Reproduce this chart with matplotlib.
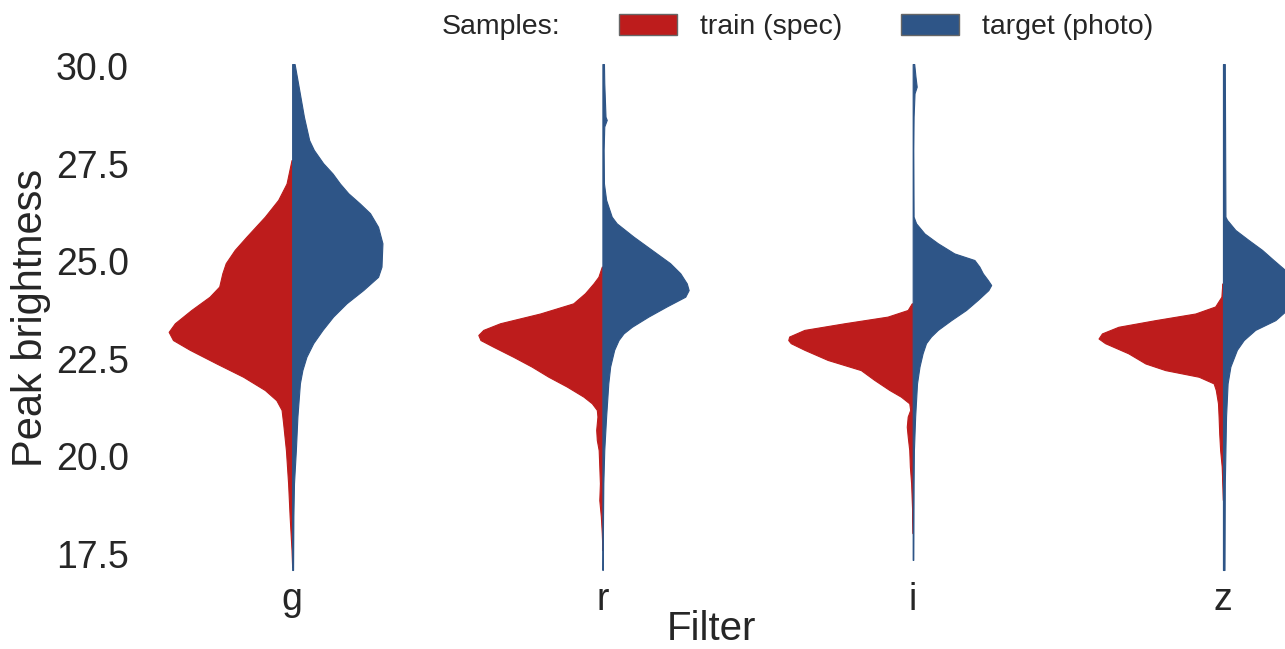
import matplotlib
matplotlib.use('Agg')
import matplotlib.pyplot as plt
from matplotlib.patches import Patch

plt.rcParams['font.family'] = ['Liberation Sans', 'DejaVu Sans']

filters = ['g', 'r', 'i', 'z']
sample_labels = ['train (spec)', 'target (photo)']
color_train = '#BD1C1C'
color_target = '#2E5587'

# violin outlines: magnitude and half-width (in category units)
g_train_mag = [27.59, 26.99, 26.57, 26.14, 25.63, 25.29, 24.95, 24.69, 24.35, 24.09, 23.75, 23.41,
               23.19, 22.98, 22.73, 22.38, 22.04, 21.70, 21.44, 21.19, 20.85, 20.16, 19.31, 18.46,
               17.60, 17.17]
g_train_w = [0.002, 0.018, 0.045, 0.088, 0.147, 0.185, 0.214, 0.225, 0.235, 0.266, 0.325, 0.378,
             0.398, 0.384, 0.330, 0.244, 0.158, 0.088, 0.051, 0.034, 0.029, 0.020, 0.013, 0.008,
             0.002, 0.0]
g_target_mag = [30.05, 29.56, 28.70, 28.10, 27.85, 27.51, 27.25, 26.99, 26.74, 26.48, 26.23, 25.88,
                25.46, 24.86, 24.60, 24.26, 23.92, 23.58, 23.24, 22.90, 22.55, 22.21, 21.87, 21.02,
                20.16, 19.31, 18.46, 17.09]
g_target_w = [0.008, 0.019, 0.038, 0.055, 0.070, 0.100, 0.130, 0.154, 0.181, 0.218, 0.251, 0.277,
              0.291, 0.288, 0.277, 0.229, 0.175, 0.132, 0.098, 0.068, 0.046, 0.033, 0.025, 0.017,
              0.012, 0.006, 0.004, 0.003]

r_train_mag = [24.86, 24.60, 24.43, 24.18, 23.92, 23.66, 23.41, 23.24, 23.11, 22.98, 22.81, 22.55,
               22.30, 22.04, 21.79, 21.53, 21.36, 21.19, 21.02, 20.68, 20.42, 20.16, 19.74, 19.31,
               18.88, 18.46, 18.03, 17.60]
r_train_w = [0.002, 0.013, 0.029, 0.056, 0.094, 0.201, 0.330, 0.384, 0.400, 0.393, 0.352, 0.287,
             0.228, 0.174, 0.115, 0.061, 0.034, 0.018, 0.016, 0.020, 0.018, 0.012, 0.010, 0.008,
             0.010, 0.005, 0.002, 0.0]
r_target_mag = [30.05, 29.56, 28.70, 28.62, 28.45, 27.85, 26.99, 26.57, 26.14, 25.97, 25.63, 25.29,
                24.95, 24.69, 24.43, 24.26, 24.09, 23.84, 23.58, 23.32, 23.15, 22.98, 22.73, 22.30,
                21.87, 21.02, 20.16, 19.31, 18.46, 17.09]
r_target_w = [0.005, 0.006, 0.010, 0.014, 0.006, 0.004, 0.005, 0.012, 0.030, 0.046, 0.100, 0.159,
              0.218, 0.251, 0.272, 0.278, 0.267, 0.207, 0.148, 0.095, 0.068, 0.052, 0.038, 0.025,
              0.019, 0.012, 0.006, 0.003, 0.002, 0.001]

i_train_mag = [23.92, 23.75, 23.58, 23.41, 23.24, 23.07, 22.98, 22.90, 22.73, 22.47, 22.21, 21.96,
               21.70, 21.53, 21.36, 21.19, 21.02, 20.76, 20.51, 20.16, 19.74, 19.31, 18.88, 18.46,
               18.03]
i_train_w = [0.003, 0.016, 0.081, 0.220, 0.349, 0.398, 0.401, 0.393, 0.349, 0.274, 0.167, 0.124,
             0.075, 0.038, 0.011, 0.008, 0.016, 0.019, 0.016, 0.011, 0.009, 0.005, 0.003, 0.001,
             0.0]
i_target_mag = [30.05, 29.73, 29.47, 29.30, 28.70, 27.85, 26.14, 25.97, 25.71, 25.46, 25.20, 25.03,
                24.86, 24.69, 24.52, 24.39, 24.26, 24.01, 23.75, 23.49, 23.24, 23.07, 22.90, 22.64,
                22.30, 21.87, 21.02, 20.16, 19.31, 17.35]
i_target_w = [0.005, 0.009, 0.013, 0.006, 0.003, 0.002, 0.003, 0.011, 0.038, 0.081, 0.134, 0.199,
              0.215, 0.226, 0.242, 0.253, 0.244, 0.210, 0.172, 0.124, 0.081, 0.059, 0.043, 0.032,
              0.022, 0.014, 0.008, 0.004, 0.003, 0.002]

z_train_mag = [24.43, 24.09, 23.84, 23.66, 23.49, 23.32, 23.15, 23.02, 22.90, 22.64, 22.38, 22.21,
               22.04, 21.87, 21.70, 21.36, 21.02, 20.59, 20.16, 19.74, 19.31, 18.88]
z_train_w = [0.002, 0.005, 0.025, 0.089, 0.218, 0.337, 0.390, 0.401, 0.380, 0.305, 0.250, 0.186,
             0.078, 0.030, 0.023, 0.016, 0.014, 0.012, 0.009, 0.004, 0.002, 0.0]
z_target_mag = [30.05, 26.14, 26.06, 25.80, 25.54, 25.29, 25.03, 24.77, 24.52, 24.26, 24.01, 23.75,
                23.49, 23.24, 22.98, 22.73, 22.30, 21.87, 21.02, 20.16, 19.31, 17.09]
z_target_w = [0.006, 0.008, 0.013, 0.040, 0.083, 0.126, 0.163, 0.201, 0.235, 0.258, 0.252, 0.206,
              0.169, 0.104, 0.067, 0.045, 0.024, 0.015, 0.010, 0.008, 0.006, 0.005]

train = [(g_train_mag, g_train_w), (r_train_mag, r_train_w),
         (i_train_mag, i_train_w), (z_train_mag, z_train_w)]
target = [(g_target_mag, g_target_w), (r_target_mag, r_target_w),
          (i_target_mag, i_target_w), (z_target_mag, z_target_w)]

fig = plt.figure(figsize=(12.85, 6.49), dpi=100)
ax = fig.add_axes([137 / 1285, 1 - 573.5 / 649, 1 - 137 / 1285, 511.4 / 649])

for pos, (mag, w) in enumerate(train):
    ax.fill_betweenx(mag, [pos - v for v in w], pos, color=color_train, lw=0.8)
for pos, (mag, w) in enumerate(target):
    ax.fill_betweenx(mag, pos, [pos + v for v in w], color=color_target, lw=0.8)

ax.set_xlim(-0.5, 3.2)
ax.set_ylim(17.0, 30.1)
ax.set_xticks(range(len(filters)))
ax.set_xticklabels(filters)
ax.set_yticks([17.5, 20.0, 22.5, 25.0, 27.5, 30.0])
ax.set_yticklabels(['17.5', '20.0', '22.5', '25.0', '27.5', '30.0'])
ax.tick_params(axis='both', length=0, labelsize=27, colors='#262626')
ax.tick_params(axis='y', pad=6)
ax.tick_params(axis='x', pad=6)
for s in ax.spines.values():
    s.set_visible(False)
ax.set_xlabel('Filter', fontsize=29, color='#262626', labelpad=-6)
ax.set_ylabel('Peak brightness', fontsize=30, color='#262626', labelpad=3)

handles = [Patch(facecolor='none', edgecolor='none'),
           Patch(facecolor=color_train, edgecolor='0.4', lw=1),
           Patch(facecolor=color_target, edgecolor='0.4', lw=1)]
fig.legend(handles, ['Samples:'] + sample_labels, ncol=3, frameon=False, fontsize=20.5,
           loc='center', bbox_to_anchor=(0.589, 1 - 27 / 649), handlelength=2.05,
           handleheight=0.75, handletextpad=0.8, columnspacing=2.05, labelcolor='#262626')

fig.savefig('out.png', dpi=100)
